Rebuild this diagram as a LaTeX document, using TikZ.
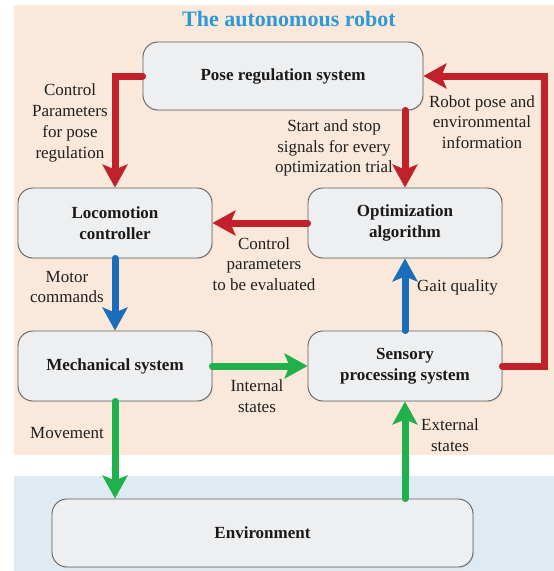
\documentclass[tikz,border=0pt]{standalone}
\usepackage{fontspec}
\setmainfont{Liberation Serif}
\usetikzlibrary{arrows.meta,shadows}

\definecolor{peach}{HTML}{FAE8DA}
\definecolor{envblue}{HTML}{E0EAF3}
\definecolor{boxfill}{HTML}{EEEFF1}
\definecolor{boxline}{HTML}{5F5F5F}
\definecolor{titleblue}{HTML}{2B9AD6}
\definecolor{redflow}{HTML}{C0212B}
\definecolor{blueflow}{HTML}{1A6EB9}
\definecolor{greenflow}{HTML}{20B14D}

\tikzset{
  block/.style={draw=boxline, line width=0.9pt, fill=boxfill, rounded corners=15pt,
    align=center, font=\fontsize{17}{21}\selectfont\bfseries, text=black!90,
    drop shadow={opacity=0.12, shadow xshift=1.2pt, shadow yshift=-1.2pt}},
  lbl/.style={align=center, font=\fontsize{17}{20.8}\selectfont, text=black!88, inner sep=0pt},
  flow/.style={line width=7pt, line cap=round, line join=miter,
    -{Stealth[length=23pt, width=25pt, inset=5pt]}},
  redf/.style={flow, draw=redflow},
  bluef/.style={flow, draw=blueflow},
  greenf/.style={flow, draw=greenflow},
}

\begin{document}
\begin{tikzpicture}[x=1pt, y=-1pt]
  \useasboundingbox (0,0) rectangle (554,571);

  % background panels: robot and environment
  \fill[peach] (14,5) rectangle (554,455);
  \fill[envblue] (14,476) rectangle (554,571);

  \node[font=\fontsize{22}{26}\selectfont\bfseries, text=titleblue] (title) at (289,19) {The autonomous robot};

  % blocks
  \node[block, minimum width=280pt, minimum height=68pt] (pose) at (283,76) {Pose regulation system};
  \node[block, minimum width=194pt, minimum height=70pt] (loco) at (115,223) {Locomotion\\controller};
  \node[block, minimum width=194pt, minimum height=70pt] (opt) at (405,223) {Optimization\\algorithm};
  \node[block, minimum width=194pt, minimum height=70pt] (mech) at (115,366) {Mechanical system};
  \node[block, minimum width=194pt, minimum height=70pt] (sens) at (405,366) {Sensory\\processing system};
  \node[block, minimum width=421pt, minimum height=68pt] (env) at (262.5,533) {Environment};

  \coordinate (rc) at (544,76);

  % connectors
  \draw[redf] (pose.west) -| (loco.north);
  \draw[redf] (opt.north |- pose.south) -- (opt.north);
  \draw[redf] (sens.east) -- (sens.east -| rc) -- (rc |- pose.east) -- (pose.east);
  \draw[redf] (opt.west) -- (loco.east);
  \draw[bluef] (loco.south) -- (mech.north);
  \draw[bluef] (sens.north) -- (opt.south);
  \draw[greenf] (mech.east) -- (sens.west);
  \draw[greenf] (mech.south) -- (mech.south |- env.north);
  \draw[greenf] (sens.south |- env.north) -- (sens.south);

  % connector labels
  \node[lbl] (l1) at (70,123) {Control\\Parameters\\for pose\\regulation};
  \node[lbl] (l2) at (334,148) {Start and stop\\signals for every\\optimization trial};
  \node[lbl] (l3) at (482,122) {Robot pose and\\environmental\\information};
  \node[lbl] (l4) at (264,264) {Control\\parameters\\to be evaluated};
  \node[lbl] (l5) at (67,287) {Motor\\commands};
  \node[lbl, anchor=west] (l6) at (417,287) {Gait quality};
  \node[lbl] (l7) at (257,396) {Internal\\states};
  \node[lbl] (l8) at (67,433) {Movement};
  \node[lbl] (l9) at (450,435) {External\\states};
\end{tikzpicture}
\end{document}
